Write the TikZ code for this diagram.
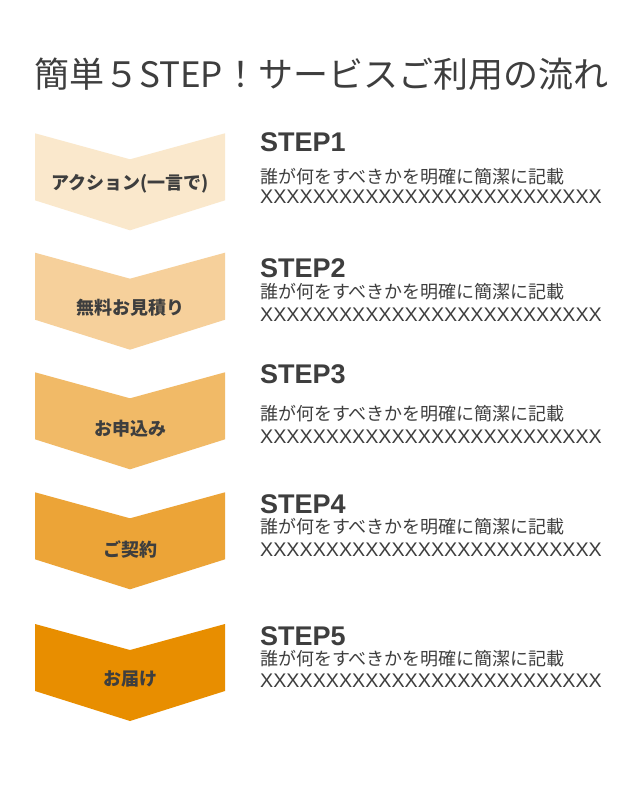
\documentclass[tikz,border=0pt]{standalone}
\usepackage{fontspec}
\setmainfont{Noto Sans CJK JP}
\newfontfamily\latinfont{Liberation Sans}
\usetikzlibrary{calc}
\definecolor{txtgray}{HTML}{3E3E3E}
\definecolor{stepa}{HTML}{FAE8CC}\definecolor{stepb}{HTML}{F6D09B}\definecolor{stepc}{HTML}{F1BA67}
\definecolor{stepd}{HTML}{ECA437}\definecolor{stepe}{HTML}{E88E00}
\tikzset{
  chevlabel/.style={text=txtgray,inner sep=0,font=\fontsize{18}{18}\selectfont\bfseries},
  steptitle/.style={text=txtgray,inner sep=0,text depth=0pt,anchor=base west,font=\fontsize{27}{27}\selectfont\latinfont\bfseries},
  stepdesc/.style={text=txtgray,inner sep=0,text height=14pt,anchor=base west,font=\fontsize{18}{18}\selectfont},
  stepxx/.style={text=txtgray,inner sep=0,anchor=base west,font=\fontsize{19.7}{19.7}\selectfont\latinfont}
}
\newcommand{\descline}{誰が何をすべきかを明確に簡潔に記載}
\newcommand{\xxline}{XXXXXXXXXXXXXXXXXXXXXXXXXX}
\begin{document}
\begin{tikzpicture}[x=1pt,y=-1pt]
\useasboundingbox[fill=white](0,0)rectangle(640,790);
\node[text=txtgray,inner sep=0,anchor=base west,font=\fontsize{35}{35}\selectfont](title)at(34,87.5){簡単５STEP！サービスご利用の流れ};
% chevrons: top / label offset / colour / label
\foreach \t/\o/\c/\lab [count=\i] in {133.3/50/stepa/アクション(一言で),252.7/55/stepb/無料お見積り,372.3/56/stepc/お申込み,492.3/57/stepd/ご契約,624/55/stepe/お届け}{
  \fill[\c](35,\t)--(130,\t+26)--(225,\t)--(225,\t+67)--(130,\t+97)--(35,\t+67)--cycle;
  \node[chevlabel](chev\i)at(130,\t+\o){\lab};
}
% right column: title baseline / text baseline / x-line baseline
\foreach \s/\d/\x [count=\i] in {151.7/183.5/203,277.3/298.5/321.7,383.3/420/443.3,513.3/533.5/556.7,645.5/665/687}{
  \node[steptitle](st\i)at(260,\s){STEP\i};
  \node[stepdesc](sd\i)at(260,\d){\descline};
  \node[stepxx](sx\i)at(260,\x){\xxline};
}
\end{tikzpicture}
\end{document}
